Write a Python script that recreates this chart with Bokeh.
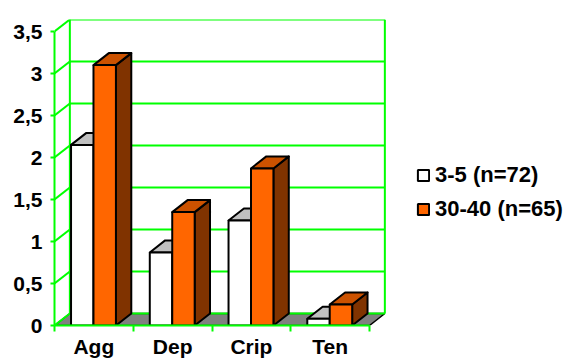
from bokeh.plotting import figure
from bokeh.embed import file_html
from bokeh.resources import INLINE
from bokeh.models import Range1d, FixedTicker, Legend, LegendItem, LinearAxis

categories = ["Agg", "Dep", "Crip", "Ten"]
young_label = "3-5 (n=72)"
older_label = "30-40 (n=65)"
young_values = [2.15, 0.87, 1.25, 0.08]
older_values = [3.1, 1.35, 1.87, 0.25]
y_ticks = [0, 0.5, 1, 1.5, 2, 2.5, 3, 3.5]
y_tick_labels = ["0", "0,5", "1", "1,5", "2", "2,5", "3", "3,5"]

GREEN = "#00ff00"
DX, DY = 0.195, 0.143     # depth of the 3D box, in data units
BAR_W, BAR_GAP = 0.285, 0.21
YMAX = 3.5

p = figure(width=567, height=360, output_backend="svg", toolbar_location=None,
           x_range=Range1d(0, 513 / 78.75), y_range=Range1d(0, 306 / 84),
           x_axis_type=None, y_axis_type=None,
           min_border_left=54, min_border_right=0, min_border_top=19, min_border_bottom=35)
p.outline_line_color = None
p.grid.visible = False
p.background_fill_color = "white"

# floor
p.patch([0, 4, 4 + DX, DX], [0, 0, DY, DY], fill_color="#808080",
        line_color="black", line_width=1.5)
p.line([DX, 4 + DX], [DY, DY], line_color=GREEN, line_width=2)

# back wall and side wall
for v in y_ticks:
    if v > 0:
        p.line([DX, 4 + DX], [v + DY, v + DY], line_color=GREEN, line_width=2)
    p.line([0, DX], [v, v + DY], line_color=GREEN, line_width=2)
p.line([DX, DX], [DY, YMAX + DY], line_color=GREEN, line_width=2)
p.line([4 + DX, 4 + DX], [DY, YMAX + DY], line_color=GREEN, line_width=2)


def draw_bar(x0, h, front, side, top):
    x1 = x0 + BAR_W
    p.patch([x1, x1 + DX, x1 + DX, x1], [0, DY, h + DY, h], fill_color=side,
            line_color="black", line_width=2, line_join="round")
    p.patch([x0, x1, x1 + DX, x0 + DX], [h, h, h + DY, h + DY], fill_color=top,
            line_color="black", line_width=2, line_join="round")
    return p.quad(left=[x0], right=[x1], bottom=[0], top=[h], fill_color=front,
                  line_color="black", line_width=2)


young_bars, older_bars = [], []
for i in range(len(categories)):
    young_bars.append(draw_bar(i + BAR_GAP, young_values[i], "white", "#808080", "#c0c0c0"))
    older_bars.append(draw_bar(i + BAR_GAP + BAR_W, older_values[i], "#ff6600", "#803300", "#cc5200"))

# axes
y_axis = LinearAxis(ticker=FixedTicker(ticks=y_ticks), bounds=(0, YMAX))
y_axis.major_label_overrides = {t: s for t, s in zip(y_ticks, y_tick_labels)}
x_axis = LinearAxis(ticker=FixedTicker(ticks=[i + 0.5 for i in range(len(categories))],
                                       minor_ticks=list(range(len(categories) + 1))),
                    bounds=(0, len(categories)))
x_axis.major_label_overrides = {i + 0.5: c for i, c in enumerate(categories)}
for ax in (x_axis, y_axis):
    ax.axis_line_color = GREEN
    ax.axis_line_width = 2
    ax.major_label_text_font = "Liberation Sans"
    ax.major_label_text_font_style = "bold"
    ax.major_label_text_font_size = "21px"
    ax.major_label_text_color = "black"
y_axis.major_tick_line_color = GREEN
y_axis.major_tick_line_width = 2
y_axis.major_tick_out = 4
y_axis.major_tick_in = 0
y_axis.minor_tick_line_color = None
y_axis.major_label_standoff = 8
x_axis.major_tick_line_color = None
x_axis.major_tick_out = 0
x_axis.major_tick_in = 0
x_axis.major_label_standoff = 3
x_axis.minor_tick_line_color = GREEN
x_axis.minor_tick_line_width = 2
x_axis.minor_tick_out = 6
x_axis.minor_tick_in = 0
p.add_layout(y_axis, "left")
p.add_layout(x_axis, "below")

legend = Legend(items=[LegendItem(label=young_label, renderers=[young_bars[0]]),
                       LegendItem(label=older_label, renderers=[older_bars[0]])],
                location=(362, 103), orientation="vertical",
                background_fill_alpha=0, border_line_color=None,
                label_text_font="Liberation Sans", label_text_font_style="bold",
                label_text_font_size="22px", label_text_color="black",
                glyph_width=14, glyph_height=14, label_standoff=5,
                padding=0, margin=0, spacing=8)
p.add_layout(legend, "center")

open("out.html", "w").write(file_html(p, INLINE))
